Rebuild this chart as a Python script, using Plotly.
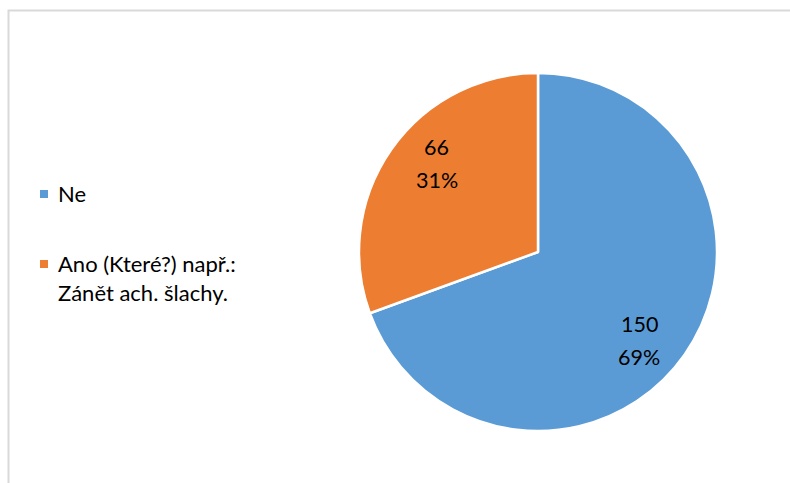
import math
import plotly.graph_objects as go

# Odpovědi a počty
labels = ["Ne", "Ano (Které?) např.:<br>Zánět ach. šlachy."]
values = [150, 66]
colors = ["#5B9BD5", "#ED7D31"]

W, H = 790, 483
cx, cy, r = 538, 252, 179

fig = go.Figure(
    go.Pie(
        labels=labels,
        values=values,
        sort=False,
        direction="clockwise",
        rotation=0,
        marker=dict(colors=colors, line=dict(color="white", width=2.5)),
        textinfo="none",
        domain=dict(x=[(cx - r) / W, (cx + r) / W], y=[1 - (cy + r) / H, 1 - (cy - r) / H]),
        showlegend=False,
        hoverinfo="label+value+percent",
    )
)

shapes = [
    dict(type="rect", xref="paper", yref="paper",
         x0=8.5 / W, x1=1.02, y0=-0.02, y1=1 - 10.5 / H,
         line=dict(color="#D9D9D9", width=2), fillcolor="rgba(0,0,0,0)", layer="below")
]
annotations = []

# Popisky dílů: hodnota a procento, umístěné podle středového úhlu dílu
total = sum(values)
start = 0.0
label_font = dict(family="Lato", size=21.5, color="#000000")
for v in values:
    frac = v / total
    mid = (start + frac / 2) * 2 * math.pi + math.radians(6)
    start += frac
    px = cx + 0.75 * r * math.sin(mid)
    py = cy - 0.75 * r * math.cos(mid)
    for txt, dy in ((str(v), -16.5), (f"{round(frac * 100)}%", 16.5)):
        annotations.append(dict(x=px / W, y=1 - (py + dy) / H, xref="paper", yref="paper",
                                xanchor="center", yanchor="middle", showarrow=False,
                                text=txt, font=label_font))

# Legenda vlevo: čtvereček + text
legend_y = [194, 264]
legend_font = dict(family="Lato", size=22, color="#000000")
for lab, col, ly in zip(labels, colors, legend_y):
    shapes.append(dict(type="rect", xref="paper", yref="paper",
                       x0=40 / W, x1=48 / W, y0=1 - (ly + 4) / H, y1=1 - (ly - 4) / H,
                       line=dict(width=0), fillcolor=col))
    annotations.append(dict(x=56 / W, y=1 - (ly - 16) / H, xref="paper", yref="paper",
                            xanchor="left", yanchor="top", align="left", showarrow=False,
                            text=lab, font=legend_font))

fig.update_layout(
    width=W, height=H,
    margin=dict(l=0, r=0, t=0, b=0),
    paper_bgcolor="white", plot_bgcolor="white",
    shapes=shapes, annotations=annotations,
)

fig.write_html("out.html")
